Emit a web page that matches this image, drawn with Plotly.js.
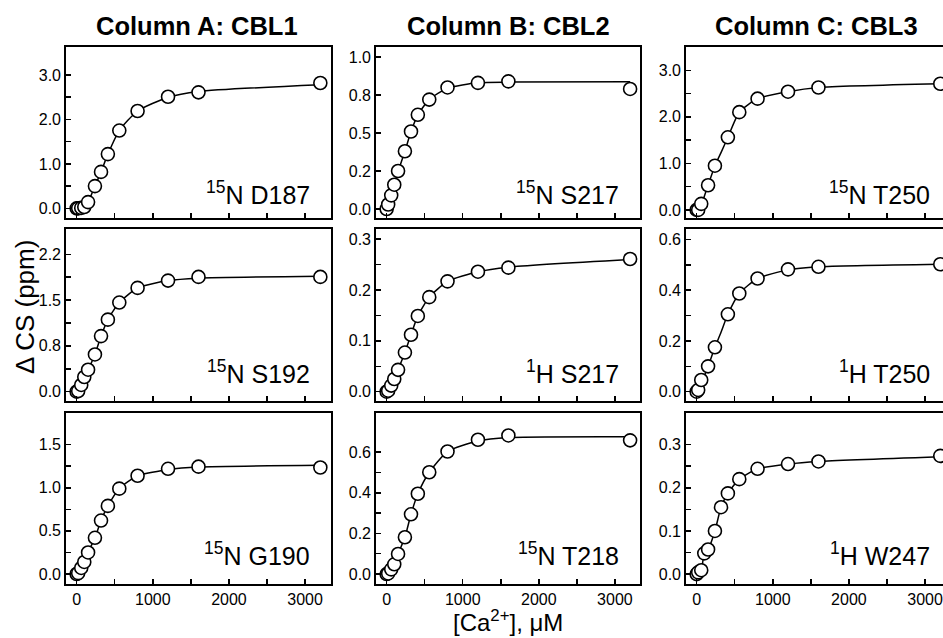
<!DOCTYPE html>
<html>
<head>
<meta charset="utf-8">
<script src="https://cdn.plot.ly/plotly-3.0.1.min.js"></script>
<style>html,body{margin:0;padding:0;background:#fff;}#chart{width:943px;height:638px;}</style>
</head>
<body>
<div id="chart"></div>
<script>
// ---- data ----
const xConc = [0, 20, 60, 100, 150, 240, 320, 410, 560, 800, 1200, 1600, 3200];

const columnTitles = ['Column A: CBL1', 'Column B: CBL2', 'Column C: CBL3'];
const panelLabels = [
  '<sup>15</sup>N D187', '<sup>15</sup>N S217', '<sup>15</sup>N T250',
  '<sup>15</sup>N S192', '<sup>1</sup>H S217', '<sup>1</sup>H T250',
  '<sup>15</sup>N G190', '<sup>15</sup>N T218', '<sup>1</sup>H W247'
];

// measured points (null = no point visible)
const dataA1 = [0, 0, 0.01, 0.03, 0.14, 0.50, 0.82, 1.22, 1.75, 2.19, 2.51, 2.61, 2.82];
const dataB1 = [0, 0.03, 0.09, 0.16, 0.25, 0.38, 0.51, 0.62, 0.72, 0.80, 0.83, 0.84, 0.79];
const dataC1 = [0, 0, 0.13, null, 0.53, 0.95, null, 1.56, 2.10, 2.39, 2.54, 2.63, 2.71];
const dataA2 = [0, 0.01, 0.11, 0.24, 0.36, 0.61, 0.91, 1.18, 1.46, 1.70, 1.82, 1.88, 1.88];
const dataB2 = [0, 0.002, 0.012, 0.025, 0.043, 0.077, 0.112, 0.149, 0.186, 0.217, 0.236, 0.244, 0.261];
const dataC2 = [0, 0.007, 0.046, null, 0.10, 0.175, null, 0.305, 0.387, 0.446, 0.482, 0.492, 0.502];
const dataA3 = [0, 0.01, 0.07, 0.14, 0.25, 0.42, 0.62, 0.79, 0.99, 1.14, 1.22, 1.245, 1.235];
const dataB3 = [0, 0.003, 0.023, 0.048, 0.099, 0.181, 0.294, 0.395, 0.501, 0.603, 0.661, 0.682, 0.658];
const dataC3 = [0, 0.004, 0.009, 0.048, 0.057, 0.10, 0.155, 0.187, 0.22, 0.244, 0.255, 0.261, 0.274];

// fitted curve values
const fitA1 = [0, 0, 0.01, 0.03, 0.14, 0.50, 0.82, 1.22, 1.75, 2.19, 2.50, 2.63, 2.78];
const fitB1 = [0, 0.02, 0.08, 0.155, 0.245, 0.38, 0.51, 0.62, 0.72, 0.795, 0.83, 0.835, 0.837];
const fitC1 = [0, 0, 0.13, 0.29, 0.53, 0.95, 1.23, 1.56, 2.10, 2.39, 2.54, 2.63, 2.71];
const fitA2 = [0, 0.01, 0.11, 0.24, 0.36, 0.61, 0.91, 1.18, 1.46, 1.70, 1.82, 1.86, 1.89];
const fitB2 = [0, 0.002, 0.012, 0.025, 0.043, 0.077, 0.112, 0.149, 0.186, 0.217, 0.236, 0.245, 0.260];
const fitC2 = [0, 0.007, 0.046, 0.062, 0.10, 0.175, 0.234, 0.305, 0.387, 0.446, 0.480, 0.492, 0.502];
const fitA3 = [0, 0.01, 0.07, 0.14, 0.25, 0.42, 0.62, 0.79, 0.99, 1.14, 1.21, 1.24, 1.26];
const fitB3 = [0, 0.003, 0.023, 0.048, 0.099, 0.181, 0.294, 0.395, 0.501, 0.603, 0.655, 0.672, 0.676];
const fitC3 = [0, 0.004, 0.009, 0.048, 0.057, 0.10, 0.155, 0.187, 0.22, 0.244, 0.255, 0.261, 0.272];

// tick labels (major, labelled) and unlabelled minor tick positions
const xTickVals = [0, 1000, 2000, 3000];
const xTickText = ['0', '1000', '2000', '3000'];
const xMinorVals = [500, 1500, 2500];
const yTickValsA1 = [0, 1, 2, 3];
const yTickTextA1 = ['0.0', '1.0', '2.0', '3.0'];
const yMinorA1 = [0.5, 1.5, 2.5];
const yTickValsB1 = [0, 0.25, 0.5, 0.75, 1.0];
const yTickTextB1 = ['0.0', '0.2', '0.5', '0.8', '1.0'];
const yMinorB1 = [];
const yTickValsC1 = [0, 1, 2, 3];
const yTickTextC1 = ['0.0', '1.0', '2.0', '3.0'];
const yMinorC1 = [0.5, 1.5, 2.5];
const yTickValsA2 = [0, 0.75, 1.5, 2.25];
const yTickTextA2 = ['0.0', '0.8', '1.5', '2.2'];
const yMinorA2 = [0.375, 1.125, 1.875];
const yTickValsB2 = [0, 0.1, 0.2, 0.3];
const yTickTextB2 = ['0.0', '0.1', '0.2', '0.3'];
const yMinorB2 = [0.05, 0.15, 0.25];
const yTickValsC2 = [0, 0.2, 0.4, 0.6];
const yTickTextC2 = ['0.0', '0.2', '0.4', '0.6'];
const yMinorC2 = [0.1, 0.3, 0.5];
const yTickValsA3 = [0, 0.5, 1.0, 1.5];
const yTickTextA3 = ['0.0', '0.5', '1.0', '1.5'];
const yMinorA3 = [0.25, 0.75, 1.25];
const yTickValsB3 = [0, 0.2, 0.4, 0.6];
const yTickTextB3 = ['0.0', '0.2', '0.4', '0.6'];
const yMinorB3 = [0.1, 0.3, 0.5];
const yTickValsC3 = [0, 0.1, 0.2, 0.3];
const yTickTextC3 = ['0.0', '0.1', '0.2', '0.3'];
const yMinorC3 = [0.05, 0.15, 0.25];

// ---- layout helpers ----
const W = 943, H = 638;
const FONT = 'Liberation Sans, Arial, Helvetica, sans-serif';
const colPx = [[66, 331], [376, 640], [686, 943]];
const rowPx = [[47, 218.3], [229, 401], [412.7, 584]];
const xRanges = [[-140, 3340], [-140, 3330], [-140, 3236]];
const yRanges = [
  [-0.224, 3.63], [-0.061, 1.066], [-0.18, 3.50],
  [-0.153, 2.665], [-0.0183, 0.320], [-0.0366, 0.641],
  [-0.116, 1.871], [-0.049, 0.794], [-0.023, 0.374]
];
const panelData = [dataA1, dataB1, dataC1, dataA2, dataB2, dataC2, dataA3, dataB3, dataC3];
const panelFit = [fitA1, fitB1, fitC1, fitA2, fitB2, fitC2, fitA3, fitB3, fitC3];
const yTV = [yTickValsA1, yTickValsB1, yTickValsC1, yTickValsA2, yTickValsB2, yTickValsC2, yTickValsA3, yTickValsB3, yTickValsC3];
const yTT = [yTickTextA1, yTickTextB1, yTickTextC1, yTickTextA2, yTickTextB2, yTickTextC2, yTickTextA3, yTickTextB3, yTickTextC3];
const yMN = [yMinorA1, yMinorB1, yMinorC1, yMinorA2, yMinorB2, yMinorC2, yMinorA3, yMinorB3, yMinorC3];
const labelY = [0.045, 0.064, 0.07];

const traces = [];
const layout = {
  width: W, height: H,
  margin: {l: 0, r: 0, t: 0, b: 0},
  paper_bgcolor: '#fff', plot_bgcolor: '#fff',
  showlegend: false,
  font: {family: FONT, color: '#000'},
  annotations: []
};

for (let i = 0; i < 9; i++) {
  const r = Math.floor(i / 3), c = i % 3;
  const n = i + 1;
  const xs = n === 1 ? 'x' : 'x' + n;
  const ys = n === 1 ? 'y' : 'y' + n;
  traces.push({
    x: xConc, y: panelFit[i], xaxis: xs, yaxis: ys, type: 'scatter', mode: 'lines',
    line: {color: '#000', width: 1.5, shape: 'spline', smoothing: 0.6}, hoverinfo: 'skip'
  });
  traces.push({
    x: xConc, y: panelData[i], xaxis: xs, yaxis: ys, type: 'scatter', mode: 'markers',
    marker: {symbol: 'circle', size: 13, color: '#fff', line: {color: '#000', width: 1.6}}
  });
  const xa = {
    domain: [colPx[c][0] / W, colPx[c][1] / W],
    range: xRanges[c],
    anchor: ys,
    tickmode: 'array', tickvals: xTickVals, ticktext: xTickText,
    ticks: 'inside', ticklen: 5, tickwidth: 1.5, tickcolor: '#000',
    minor: {tickmode: 'array', tickvals: xMinorVals, ticks: 'inside', ticklen: 5, tickwidth: 1.5, tickcolor: '#000', showgrid: false},
    showticklabels: r === 2,
    tickfont: {family: FONT, size: 16, color: '#000'},
    showline: true, mirror: true, linewidth: 1.8, linecolor: '#000',
    showgrid: false, zeroline: false, fixedrange: true
  };
  const ya = {
    domain: [(H - rowPx[r][1]) / H, (H - rowPx[r][0]) / H],
    range: yRanges[i],
    anchor: xs,
    tickmode: 'array', tickvals: yTV[i], ticktext: yTT[i],
    ticks: 'inside', ticklen: 5, tickwidth: 1.5, tickcolor: '#000',
    minor: {tickmode: 'array', tickvals: yMN[i], ticks: yMN[i].length ? 'inside' : '', ticklen: 5, tickwidth: 1.5, tickcolor: '#000', showgrid: false},
    tickfont: {family: FONT, size: 16, color: '#000'},
    showline: true, mirror: c !== 2, linewidth: 1.8, linecolor: '#000',
    showgrid: false, zeroline: false, fixedrange: true
  };
  layout[n === 1 ? 'xaxis' : 'xaxis' + n] = xa;
  layout[n === 1 ? 'yaxis' : 'yaxis' + n] = ya;

  layout.annotations.push({
    text: panelLabels[i], xref: xs + ' domain', yref: ys + ' domain',
    x: c === 2 ? 0.956 : 0.928, y: labelY[r], xanchor: 'right', yanchor: 'bottom',
    showarrow: false, font: {family: FONT, size: 25, color: '#000'}
  });
}

const titleCenters = [197, 508, 816];
for (let c = 0; c < 3; c++) {
  layout.annotations.push({
    text: '<b>' + columnTitles[c] + '</b>', xref: 'paper', yref: 'paper',
    x: titleCenters[c] / W, y: (H - 26) / H, xanchor: 'center', yanchor: 'middle',
    showarrow: false, font: {family: FONT, size: 25.5, color: '#000'}
  });
}
layout.annotations.push({
  text: 'Δ CS (ppm)', xref: 'paper', yref: 'paper', x: 25 / W, y: (H - 307) / H,
  xanchor: 'center', yanchor: 'middle', textangle: -90, showarrow: false,
  font: {family: FONT, size: 26, color: '#000'}
});
layout.annotations.push({
  text: '[Ca<sup>2+</sup>], μM', xref: 'paper', yref: 'paper', x: 508 / W, y: (H - 621) / H,
  xanchor: 'center', yanchor: 'middle', showarrow: false,
  font: {family: FONT, size: 24, color: '#000'}
});

Plotly.newPlot('chart', traces, layout, {displayModeBar: false, staticPlot: true});
</script>
</body>
</html>
